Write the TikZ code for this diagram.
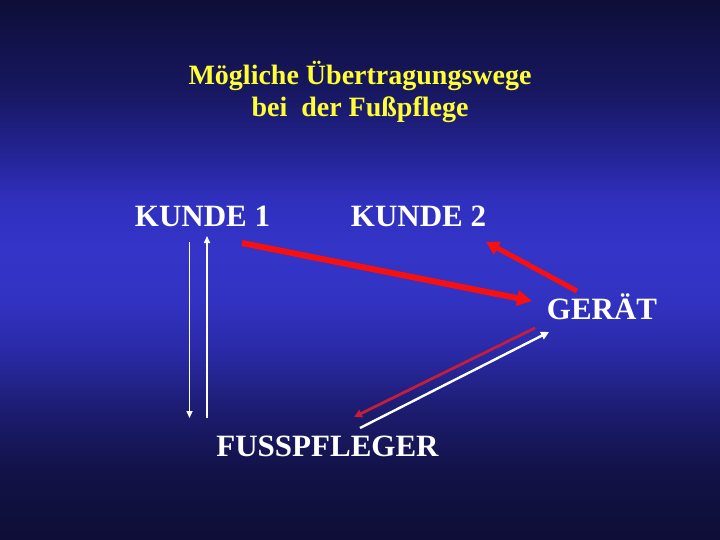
\documentclass[tikz,border=0pt]{standalone}
\usepackage{fontspec}
\setmainfont{Liberation Serif}
\usetikzlibrary{arrows.meta}
\definecolor{bgA}{HTML}{0E0E36}
\definecolor{bgB}{HTML}{121248}
\definecolor{bgC}{HTML}{1C1C70}
\definecolor{bgD}{HTML}{2A2AA8}
\definecolor{bgE}{HTML}{3232C2}
\definecolor{bgF}{HTML}{3434C8}
\definecolor{bgG}{HTML}{3030BE}
\definecolor{bgH}{HTML}{25259A}
\definecolor{bgI}{HTML}{171760}
\definecolor{bgJ}{HTML}{0E0E38}
\pgfdeclareverticalshading{slidebg}{100bp}{color(0bp)=(bgA); color(25bp)=(bgA); color(31.5bp)=(bgB); color(37bp)=(bgC); color(42.6bp)=(bgD); color(47.2bp)=(bgE); color(51.85bp)=(bgF); color(56.5bp)=(bgG); color(60.2bp)=(bgH); color(66.65bp)=(bgI); color(75bp)=(bgJ); color(100bp)=(bgJ)}
\definecolor{titley}{HTML}{FFFF33}
\definecolor{redA}{HTML}{F81010}
\definecolor{redB}{HTML}{C41E3A}
\tikzset{
  title/.style={text=titley, font=\fontsize{28}{32}\selectfont\bfseries, anchor=base, inner sep=0pt},
  label/.style={text=white, font=\fontsize{31}{36}\selectfont\bfseries, anchor=base, inner sep=0pt},
  redthick/.style={draw=redA, line width=6pt, -{Triangle[length=15pt,width=15pt]}},
  redmid/.style={draw=redA, line width=5pt, -{Triangle[length=13pt,width=14pt]}},
  redthin/.style={draw=redB, line width=2.8pt, -{Triangle[length=8pt,width=8pt]}},
  whitemid/.style={draw=white, line width=2.4pt, -{Triangle[length=8pt,width=8pt]}},
  whitethin/.style={draw=white, line width=1.5pt, -{Triangle[length=7pt,width=6pt]}}
}
\begin{document}
\begin{tikzpicture}[x=1pt,y=-1pt]
\useasboundingbox (0,0) rectangle (720,540);
\shade[shading=slidebg] (0,0) rectangle (720,540);
\node[title] (t1) at (360,85) {Mögliche Übertragungswege};
\node[title] (t2) at (360,117) {bei\ \ der Fußpflege};
\node[label] (k1) at (202.5,226) {KUNDE 1};
\node[label] (k2) at (418.5,226) {KUNDE 2};
\node[label] (ger) at (602,319) {GERÄT};
\node[label] (fp) at (327.5,456) {FUSSPFLEGER};
% arrow endpoints
\coordinate (a1s) at (242,243);
\coordinate (a1e) at (532,301);
\coordinate (a2s) at (577,291);
\coordinate (a2e) at (486,242);
\coordinate (a3s) at (535,328);
\coordinate (a3e) at (354,417);
\coordinate (a4s) at (360,428);
\coordinate (a4e) at (549,332);
\coordinate (a5s) at (189.5,242);
\coordinate (a5e) at (189.5,418);
\coordinate (a6s) at (207,418);
\coordinate (a6e) at (207,236);
\draw[redthick] (a1s) -- (a1e);
\draw[redmid] (a2s) -- (a2e);
\draw[redthin] (a3s) -- (a3e);
\draw[whitemid] (a4s) -- (a4e);
\draw[whitethin] (a5s) -- (a5e);
\draw[whitethin] (a6s) -- (a6e);
\end{tikzpicture}
\end{document}
